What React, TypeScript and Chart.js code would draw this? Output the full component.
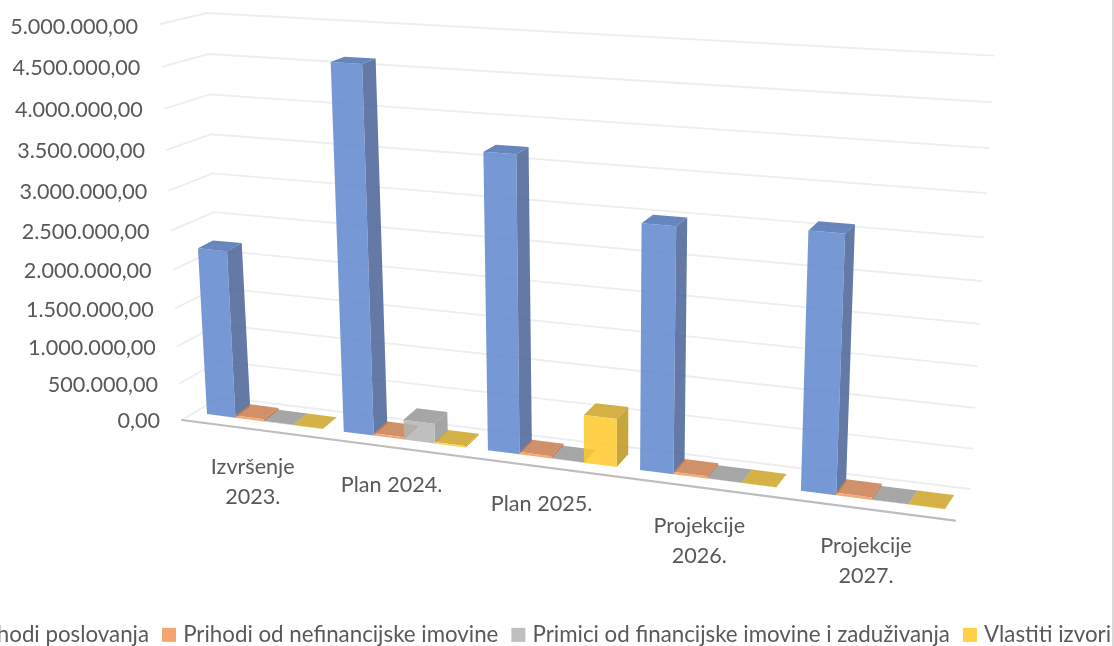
import React, { useEffect, useRef } from "react";
import { Chart, registerables } from "chart.js";

Chart.register(...registerables);

const categories: (string | string[])[] = [
  ["Izvršenje", "2023."],
  "Plan 2024.",
  "Plan 2025.",
  ["Projekcije", "2026."],
  ["Projekcije", "2027."],
];
const prihodiPoslovanja = [2200000, 4600000, 3680000, 3000000, 3080000];
const prihodiNefinancijske = [30000, 30000, 30000, 30000, 30000];
const primiciFinancijske = [4000, 260000, 4000, 4000, 4000];
const vlastitiIzvori = [3000, 20000, 610000, 3000, 3000];
const yTickLabels = [
  "0,00", "500.000,00", "1.000.000,00", "1.500.000,00", "2.000.000,00", "2.500.000,00",
  "3.000.000,00", "3.500.000,00", "4.000.000,00", "4.500.000,00", "5.000.000,00",
];
const seriesNames = [
  "Prihodi poslovanja",
  "Prihodi od nefinancijske imovine",
  "Primici od financijske imovine i zaduživanja",
  "Vlastiti izvori",
];
const legendColors = ["#7598D5", "#F4A46E", "#BFBFBF", "#FFCF47"];
const faceColors = [
  { front: "rgb(94,134,205)", side: "rgb(73,98,149)", top: "rgb(76,113,177)" },
  { front: "rgb(244,153,89)", side: "rgb(173,102,55)", top: "rgb(200,125,78)" },
  { front: "rgb(180,180,180)", side: "rgb(149,149,149)", top: "rgb(150,150,150)" },
  { front: "rgb(255,200,42)", side: "rgb(189,151,30)", top: "rgb(205,165,39)" },
];

const CANVAS_LEFT = -92;
const CANVAS_W = 1240;
const CANVAS_H = 656;

type P = [number, number];

// Projective map of the unit square on a quad: (0,0) (1,0) (1,1) (0,1).
function quad(p0: P, p1: P, p2: P, p3: P) {
  const [x0, y0] = p0, [x1, y1] = p1, [x2, y2] = p2, [x3, y3] = p3;
  const dx1 = x1 - x2, dx2 = x3 - x2, sx = x0 - x1 + x2 - x3;
  const dy1 = y1 - y2, dy2 = y3 - y2, sy = y0 - y1 + y2 - y3;
  const den = dx1 * dy2 - dx2 * dy1;
  const g = (sx * dy2 - dx2 * sy) / den;
  const h = (dx1 * sy - sx * dy1) / den;
  const a = x1 - x0 + g * x1, b = x3 - x0 + h * x3;
  const d = y1 - y0 + g * y1, e = y3 - y0 + h * y3;
  return (u: number, v0: number): P => {
    const v = v0 / (v0 + 1.03 * (1 - v0));
    const w = g * u + h * v + 1;
    return [(a * u + b * v + x0) / w - CANVAS_LEFT, (d * u + e * v + y0) / w];
  };
}

const backWall = quad([220, 397], [970, 489], [994, 55.7], [207, 13]);
const frontPlane = quad([182, 420], [955, 520.7], [980, 74], [160, 24]);
const barPlane = quad([197, 412.7], [958, 511], [981, 62], [175, 18.7]);
const depthAt = (u: number, v: number): P => [15 - 6 * u, -(11 + 3 * u) + 7 * v];

function poly(ctx: CanvasRenderingContext2D, pts: P[], fill: string) {
  ctx.fillStyle = fill;
  ctx.beginPath();
  pts.forEach((p, i) => (i ? ctx.lineTo(p[0], p[1]) : ctx.moveTo(p[0], p[1])));
  ctx.closePath();
  ctx.fill();
}

const perspectivePlugin = {
  id: "perspective",
  beforeDraw(chart: any) {
    const area = chart.chartArea;
    const xs = chart.scales.x;
    const ys = chart.scales.y;
    xs._computeLabelArea = () => undefined;
    ys._computeLabelArea = () => undefined;
    const labelOffsets: P[] = [[-11.5, 46], [-12.5, 46], [-10, 46], [-8, 47], [-6, 46]];
    xs.getLabelItems().forEach((item: any, i: number) => {
      const u = (xs.getPixelForTick(i) - area.left) / area.width;
      const p = barPlane(u, 0);
      item.options.translation = [p[0] + labelOffsets[i][0], p[1] + labelOffsets[i][1]];
      item.options.textAlign = "center";
      item.options.textBaseline = "middle";
      item.textOffset = 0;
    });
    ys.getLabelItems().forEach((item: any, i: number) => {
      const v = (area.bottom - ys.getPixelForTick(i)) / area.height;
      const p = frontPlane(0, v);
      item.options.translation = [p[0] - 22, p[1] + 1.5 + (i === 10 ? 1.5 : 0)];
      item.options.textAlign = "right";
      item.options.textBaseline = "middle";
      item.textOffset = 0;
    });
  },
  beforeDatasetsDraw(chart: any) {
    const ctx: CanvasRenderingContext2D = chart.ctx;
    const area = chart.chartArea;
    const ys = chart.scales.y;
    ctx.save();
    ctx.lineCap = "round";

    // gridlines on the left wall and the back wall
    ctx.strokeStyle = "#EEEEEE";
    ctx.lineWidth = 1.8;
    ys.ticks.forEach((_t: any, i: number) => {
      const v = (area.bottom - ys.getPixelForTick(i)) / area.height;
      const a = frontPlane(0, v), b = backWall(0, v), c = backWall(1, v);
      ctx.beginPath();
      ctx.moveTo(a[0], a[1]);
      ctx.lineTo(b[0], b[1]);
      ctx.lineTo(c[0], c[1]);
      ctx.stroke();
    });

    // front edge of the floor
    const s = frontPlane(0, 0), e = frontPlane(1, 0);
    ctx.strokeStyle = "#BDBDBD";
    ctx.lineWidth = 2.2;
    ctx.beginPath();
    ctx.moveTo(s[0], s[1]);
    ctx.lineTo(e[0], e[1]);
    ctx.stroke();

    // bars, left to right so nearer faces cover farther ones
    ctx.globalAlpha = 0.85;
    const metas = chart.data.datasets.map((_d: any, i: number) => chart.getDatasetMeta(i));
    categories.forEach((_c, ci) => {
      metas.forEach((meta: any, si: number) => {
        const el = meta.data[ci];
        const u0 = (el.x - el.width / 2 - area.left) / area.width;
        const u1 = (el.x + el.width / 2 - area.left) / area.width;
        const v = (area.bottom - el.y) / area.height;
        const bl = barPlane(u0, 0), br = barPlane(u1, 0), tl = barPlane(u0, v), tr = barPlane(u1, v);
        const back = (p: P, u: number, w: number): P => {
          const d = depthAt(u, w);
          return [p[0] + d[0], p[1] + d[1]];
        };
        const c = faceColors[si];
        poly(ctx, [tr, br, back(br, u1, 0), back(tr, u1, v)], c.side);
        poly(ctx, [tl, tr, back(tr, u1, v), back(tl, u0, v)], c.top);
        poly(ctx, [bl, br, tr, tl], c.front);
      });
    });
    ctx.restore();
    return false;
  },
  afterDraw(chart: any) {
    // legend swatches sit closer to their text than the library's own boxes
    const ctx: CanvasRenderingContext2D = chart.ctx;
    ctx.save();
    chart.legend.legendHitBoxes.forEach((hit: any, i: number) => {
      ctx.fillStyle = legendColors[i];
      ctx.fillRect(hit.left + 4, hit.top + hit.height / 2 - 7, 14, 14);
    });
    ctx.restore();
  },
};

export default function App() {
  const ref = useRef<HTMLCanvasElement>(null);
  useEffect(() => {
    const font = { family: "Lato", size: 21.6, lineHeight: 1.39 };
    const legendFont = { family: "Lato", size: 22.3 };
    const seriesValues = [prihodiPoslovanja, prihodiNefinancijske, primiciFinancijske, vlastitiIzvori];
    const chart = new Chart(ref.current!, {
      type: "bar",
      data: {
        labels: categories as any,
        datasets: seriesNames.map((label, i) => ({
          label,
          data: seriesValues[i],
          backgroundColor: legendColors[i],
          borderWidth: 0,
          barPercentage: 1,
          categoryPercentage: 0.85,
        })),
      },
      options: {
        animation: false,
        responsive: false,
        devicePixelRatio: 1,
        layout: { padding: { bottom: 0, top: 10, left: 0, right: 0 } },
        plugins: {
          tooltip: { enabled: false },
          legend: {
            position: "bottom",
            labels: {
              font: legendFont,
              color: "#595959",
              boxWidth: 14,
              boxHeight: 14,
              padding: 9,
              generateLabels: () =>
                seriesNames.map((text, i) => ({
                  text,
                  datasetIndex: i,
                  fillStyle: "rgba(0,0,0,0)",
                  strokeStyle: "rgba(0,0,0,0)",
                  lineWidth: 0,
                  fontColor: "#595959",
                })),
            },
          },
        },
        scales: {
          x: {
            grid: { display: false },
            border: { display: false },
            ticks: { font, color: "#595959", autoSkip: false, maxRotation: 0, minRotation: 0 },
          },
          y: {
            min: 0,
            max: 5000000,
            grid: { display: false },
            border: { display: false },
            ticks: {
              font,
              color: "#595959",
              stepSize: 500000,
              callback: (_v: any, i: number) => yTickLabels[i],
            },
          },
        },
      },
      plugins: [perspectivePlugin as any],
    });
    return () => chart.destroy();
  }, []);
  return (
    <div style={{ position: "fixed", inset: 0, overflow: "hidden", background: "#fff" }}>
      <canvas
        ref={ref}
        width={CANVAS_W}
        height={CANVAS_H}
        style={{
          position: "absolute",
          left: CANVAS_LEFT,
          top: 0,
          width: CANVAS_W,
          height: CANVAS_H,
          filter: "blur(0.4px)",
        }}
      />
      <div style={{ position: "absolute", right: 0, top: 0, width: 2, height: "100%", background: "#D9D9D9" }} />
    </div>
  );
}
